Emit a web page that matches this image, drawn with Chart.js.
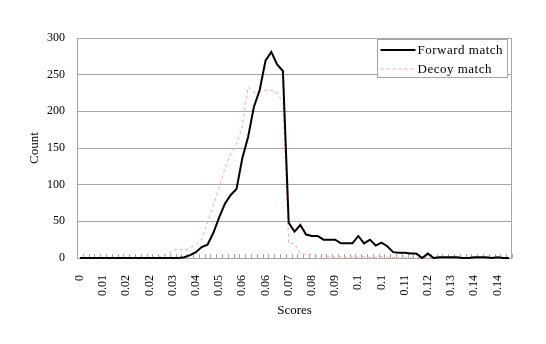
<!DOCTYPE html>
<html>
<head>
<meta charset="utf-8">
<script src="https://cdn.jsdelivr.net/npm/chart.js@4/dist/chart.umd.min.js"></script>
<style>
html,body{margin:0;padding:0;background:#fff;}
#wrap{width:546px;height:344px;}
</style>
</head>
<body>
<div id="wrap"><canvas id="c" width="546" height="344"></canvas></div>
<script>
// Score categories (bin starts)
const categories = [
 "0.000","0.002","0.004","0.006","0.008","0.010","0.012","0.014","0.016","0.018",
 "0.020","0.022","0.024","0.026","0.028","0.030","0.032","0.034","0.036","0.038",
 "0.040","0.042","0.044","0.046","0.048","0.050","0.052","0.054","0.056","0.058",
 "0.060","0.062","0.064","0.066","0.068","0.070","0.072","0.074","0.076","0.078",
 "0.080","0.082","0.084","0.086","0.088","0.090","0.092","0.094","0.096","0.098",
 "0.100","0.102","0.104","0.106","0.108","0.110","0.112","0.114","0.116","0.118",
 "0.120","0.122","0.124","0.126","0.128","0.130","0.132","0.134","0.136","0.138",
 "0.140","0.142","0.144","0.146","0.148"
];
const forwardMatch = [
 0,0,0,0,0,0,0,0,0,0,
 0,0,0,0,0,0,0,0,1,4,
 8,15,18,34,55,74,86,94,136,165,
 206,229,269,281,264,255,48,36,45,32,
 30,30,25,25,25,20,20,20,30,20,
 25,17,21,16,8,7,7,6,6,0,
 6,0,1,1,1,1,0,0,1,1,
 1,0,1,0,0
];
const decoyMatch = [
 0,0,0,0,0,0,0,0,0,0,
 0,0,0,0,2,5,10,13,10,14,
 18,26,48,72,96,122,142,155,180,233,
 226,226,229,229,225,212,20,20,6,5,
 5,2,3,2,1,2,1,2,1,2,
 1,1,2,1,1,0,1,1,0,1,
 0,1,1,0,1,1,0,1,1,0,
 1,1,0,1,0
];
const yTicks = [0,50,100,150,200,250,300];
const seriesNames = ["Forward match","Decoy match"];

const FONT = "'Liberation Serif', 'DejaVu Serif', serif";
const GRID = "#a6a6a6";

const framePlugin = {
  id: 'frame',
  beforeDatasetsDraw(chart) {
    const {ctx, chartArea: a, scales: {x}} = chart;
    ctx.save();
    ctx.strokeStyle = GRID;
    ctx.lineWidth = 1;
    ctx.strokeRect(Math.round(a.left) + 0.5, Math.round(a.top) + 0.5,
                   Math.round(a.right - a.left) - 1, Math.round(a.bottom - a.top));
    // inward tick marks at category boundaries
    ctx.beginPath();
    for (let k = 0; k <= categories.length; k++) {
      const px = Math.round(x.getPixelForValue(k - 0.5)) + 0.5;
      ctx.moveTo(px, a.bottom);
      ctx.lineTo(px, a.bottom - 4);
    }
    ctx.stroke();
    ctx.restore();
  },
  afterDraw(chart) {
    const {ctx} = chart;
    const ds = chart.data.datasets;
    const bx = 377.5, by = 39.5, bw = 130, bh = 38;
    ctx.save();
    ctx.fillStyle = '#fff';
    ctx.fillRect(bx, by, bw, bh);
    ctx.strokeStyle = GRID;
    ctx.lineWidth = 1;
    ctx.strokeRect(bx, by, bw, bh);
    ds.forEach((d, i) => {
      const yy = by + 10.5 + i * 19;
      ctx.beginPath();
      ctx.strokeStyle = d.borderColor;
      ctx.lineWidth = d.borderWidth;
      ctx.setLineDash(d.borderDash || []);
      ctx.moveTo(bx + 3, yy);
      ctx.lineTo(bx + 38, yy);
      ctx.stroke();
      ctx.setLineDash([]);
      ctx.fillStyle = '#000';
      ctx.font = "13px " + FONT;
      try { ctx.letterSpacing = '0.5px'; } catch (e) {}
      ctx.textBaseline = 'middle';
      ctx.textAlign = 'left';
      ctx.fillText(d.label, bx + 40, yy + 0.5);
    });
    ctx.restore();
  }
};

new Chart(document.getElementById('c'), {
  type: 'line',
  data: {
    labels: categories,
    datasets: [
      { label: seriesNames[0], data: forwardMatch, borderColor: '#000', borderWidth: 2,
        pointRadius: 0, tension: 0, fill: false, clip: 3 },
      { label: seriesNames[1], data: decoyMatch, borderColor: '#f7a3a3', borderWidth: 1,
        borderDash: [3, 3], pointRadius: 0, tension: 0, fill: false, clip: 3 }
    ]
  },
  options: {
    responsive: false,
    animation: false,
    devicePixelRatio: 1,
    layout: { padding: { top: 38, right: 34, left: 0, bottom: 0 } },
    plugins: { legend: { display: false }, tooltip: { enabled: false } },
    scales: {
      x: {
        type: 'category',
        offset: true,
        grid: { display: false, offset: true },
        border: { display: false },
        ticks: {
          autoSkip: false, minRotation: 90, maxRotation: 90, padding: 9,
          color: '#000', font: { family: FONT, size: 12 },
          callback: function(v, i) {
            return i % 4 === 0 ? String(parseFloat(parseFloat(categories[i]).toFixed(2))) : '';
          }
        },
        title: { display: true, text: 'Scores', color: '#000', font: { family: FONT, size: 13 },
                 padding: { top: 0, bottom: 26 } },
        afterFit(s) { s.height = 86; }
      },
      y: {
        min: 0, max: 300,
        afterBuildTicks(s) { s.ticks = yTicks.map(v => ({ value: v })); },
        grid: { color: GRID, lineWidth: 1, drawTicks: false },
        border: { display: false },
        ticks: { padding: 12, color: '#000', font: { family: FONT, size: 12 } },
        title: { display: true, text: 'Count', color: '#000', font: { family: FONT, size: 13 },
                 padding: { top: 27, bottom: 0 } },
        afterFit(s) { s.width = 77; }
      }
    }
  },
  plugins: [framePlugin]
});
</script>
</body>
</html>
